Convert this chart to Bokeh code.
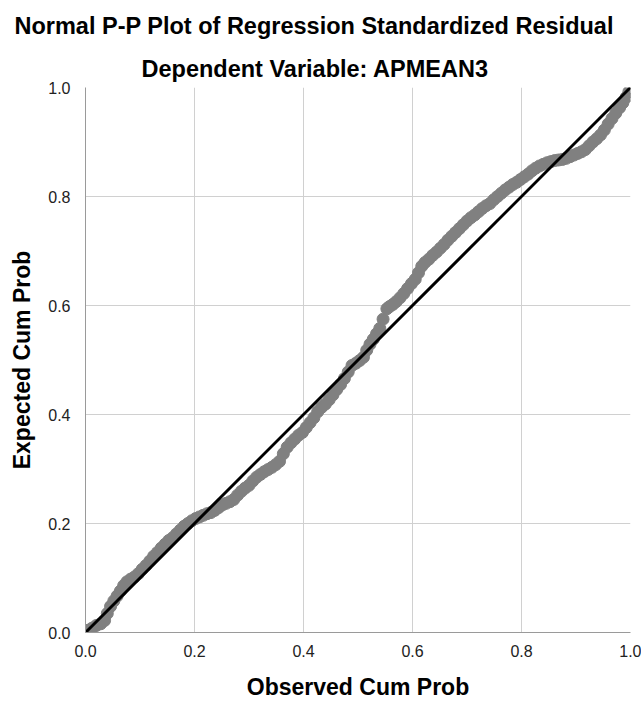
from bokeh.plotting import figure
from bokeh.models import Range1d, FixedTicker, PrintfTickFormatter, Title
from bokeh.embed import file_html
from bokeh.resources import INLINE

# Observed cumulative probability (x) and expected cumulative probability (y)
observed = [0.004, 0.012, 0.020, 0.028, 0.035, 0.040, 0.046, 0.052, 0.058, 0.064,
            0.070, 0.076, 0.083, 0.090, 0.097, 0.104, 0.111, 0.118, 0.125, 0.132,
            0.139, 0.146, 0.153, 0.160, 0.167, 0.174, 0.181, 0.188, 0.195, 0.202,
            0.209, 0.216, 0.223, 0.230, 0.237, 0.244, 0.251, 0.258, 0.265, 0.272,
            0.279, 0.286, 0.293, 0.300, 0.307, 0.314, 0.321, 0.328, 0.335, 0.342,
            0.349, 0.356, 0.363, 0.370, 0.377, 0.384, 0.391, 0.398, 0.405, 0.412,
            0.419, 0.426, 0.433, 0.440, 0.447, 0.454, 0.461, 0.468, 0.475, 0.482,
            0.489, 0.496, 0.503, 0.510, 0.516, 0.522, 0.528, 0.534, 0.540, 0.546,
            0.553, 0.558, 0.564, 0.570, 0.577, 0.584, 0.591, 0.598, 0.605, 0.611,
            0.617, 0.623, 0.630, 0.637, 0.644, 0.651, 0.658, 0.665, 0.672, 0.679,
            0.686, 0.693, 0.700, 0.707, 0.714, 0.721, 0.728, 0.735, 0.742, 0.749,
            0.756, 0.763, 0.770, 0.777, 0.784, 0.791, 0.798, 0.805, 0.812, 0.819,
            0.826, 0.833, 0.840, 0.847, 0.854, 0.861, 0.868, 0.875, 0.882, 0.889,
            0.896, 0.903, 0.910, 0.917, 0.924, 0.931, 0.938, 0.945, 0.952, 0.959,
            0.966, 0.973, 0.980, 0.986, 0.992, 0.997]
expected = [0.004, 0.008, 0.013, 0.016, 0.022, 0.035, 0.048, 0.058, 0.067, 0.076,
            0.086, 0.093, 0.098, 0.102, 0.108, 0.116, 0.123, 0.131, 0.140, 0.147,
            0.155, 0.162, 0.169, 0.174, 0.181, 0.188, 0.195, 0.200, 0.205, 0.209,
            0.212, 0.215, 0.218, 0.220, 0.224, 0.229, 0.234, 0.237, 0.240, 0.244,
            0.252, 0.259, 0.265, 0.270, 0.278, 0.285, 0.290, 0.295, 0.299, 0.303,
            0.308, 0.314, 0.328, 0.340, 0.348, 0.355, 0.362, 0.367, 0.376, 0.385,
            0.394, 0.405, 0.413, 0.419, 0.427, 0.436, 0.446, 0.455, 0.466, 0.478,
            0.490, 0.494, 0.499, 0.505, 0.518, 0.529, 0.538, 0.548, 0.558, 0.575,
            0.594, 0.598, 0.602, 0.607, 0.614, 0.622, 0.631, 0.640, 0.648, 0.660,
            0.672, 0.679, 0.685, 0.692, 0.698, 0.705, 0.712, 0.720, 0.727, 0.734,
            0.741, 0.748, 0.755, 0.761, 0.766, 0.772, 0.778, 0.783, 0.787, 0.794,
            0.800, 0.806, 0.812, 0.817, 0.822, 0.826, 0.831, 0.836, 0.841, 0.847,
            0.852, 0.856, 0.859, 0.862, 0.864, 0.866, 0.867, 0.868, 0.870, 0.873,
            0.876, 0.879, 0.882, 0.886, 0.893, 0.900, 0.906, 0.913, 0.922, 0.933,
            0.943, 0.953, 0.963, 0.972, 0.982, 0.992]

# Reference diagonal
diag_x = [0.0, 1.0]
diag_y = [0.0, 1.0]

tick_values = [0.0, 0.2, 0.4, 0.6, 0.8, 1.0]

title_text = "Normal P-P Plot of Regression Standardized Residual"
subtitle_text = "Dependent Variable: APMEAN3"
x_label = "Observed Cum Prob"
y_label = "Expected Cum Prob"

FONT = "Liberation Sans"

p = figure(width=641, height=702, output_backend="svg", toolbar_location=None,
           x_range=Range1d(0, 1), y_range=Range1d(0, 1),
           min_border_left=85, min_border_right=11, min_border_top=87, min_border_bottom=70)

p.scatter(observed, expected, size=12, marker="circle",
          fill_color="#808080", line_color="#808080")
p.line(diag_x, diag_y, line_color="black", line_width=3)

p.outline_line_color = None
for ax in (p.xaxis[0], p.yaxis[0]):
    ax.ticker = FixedTicker(ticks=tick_values)
    ax.formatter = PrintfTickFormatter(format="%.1f")
    ax.major_tick_line_color = None
    ax.minor_tick_line_color = None
    ax.axis_line_color = "#9a9a9a"
    ax.major_label_text_font = FONT
    ax.major_label_text_font_size = "16px"
    ax.major_label_text_color = "#222222"
    ax.axis_label_text_font = FONT
    ax.axis_label_text_font_size = "23px"
    ax.axis_label_text_font_style = "bold"
    ax.axis_label_text_color = "black"

p.xaxis.major_label_standoff = 6
p.yaxis.major_label_standoff = 9
p.yaxis.axis_label = y_label
p.yaxis.axis_label_standoff = 10
p.xaxis.axis_label = x_label
p.xaxis.axis_label_standoff = 14

p.xgrid.ticker = FixedTicker(ticks=tick_values)
p.ygrid.ticker = FixedTicker(ticks=tick_values)
p.grid.grid_line_color = "#d0d0d0"
p.grid.grid_line_width = 1

# Main title (outermost)
p.title.text = title_text
p.title.align = "left"
p.title.offset = -71
p.title.text_font = FONT
p.title.text_font_size = "23.5px"
p.title.text_font_style = "bold"
p.title.text_color = "black"
p.title.standoff = 17

# Subtitle (closest to the frame)
p.add_layout(Title(text=subtitle_text, align="left", offset=56, text_font=FONT,
                   text_font_size="23.5px", text_font_style="bold",
                   text_color="black", standoff=12), "above")

open("out.html", "w").write(file_html(p, INLINE))
